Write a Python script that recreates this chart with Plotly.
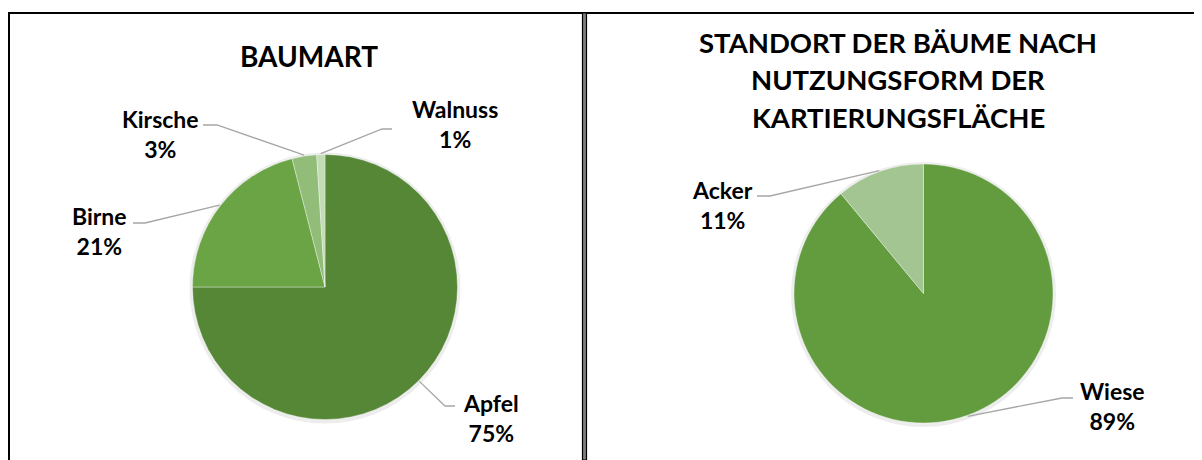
import math
import plotly.graph_objects as go

# page is shown with the browser's default 8px body margin -> figure sits at (8, 8)
OX, OY = 8, 8
W, H = 1202 - OX, 460 - OY

# ---- data ----
tree_labels = ["Apfel", "Birne", "Kirsche", "Walnuss"]
tree_values = [75, 21, 3, 1]
site_labels = ["Wiese", "Acker"]
site_values = [89, 11]

title_left = "BAUMART"
title_right = ["STANDORT DER BÄUME NACH", "NUTZUNGSFORM DER", "KARTIERUNGSFLÄCHE"]

# ---- styles / layout ----
tree_colors = ["#568737", "#6aa444", "#91bd78", "#c2dcb4"]
site_colors = ["#629c3f", "#a3c591"]
FONT = "Lato, 'Open Sans', sans-serif"
LEADER = "#a6a6a6"

# label layout (screen pixels): text centre (x, y), leader start x, elbow x, leader y
label_layout = {
    "Apfel":   (491, 418, 455, 445, 406),
    "Birne":   (99, 231, 133, 145, 223),
    "Kirsche": (160, 134, 203, 217, 125),
    "Walnuss": (455, 124, 392, 382, 129),
    "Wiese":   (1112, 406, 1073, 1062, 398),
    "Acker":   (722, 205, 757, 770, 196),
}

panels = [
    dict(labels=tree_labels, values=tree_values, colors=tree_colors, cx=325, cy=287, r=132.5),
    dict(labels=site_labels, values=site_values, colors=site_colors, cx=923.5, cy=293.5, r=129.5),
]


def px(x):
    return (x - OX) / W


def py(y):
    return 1 - (y - OY) / H


fig = go.Figure()
shapes = []
annotations = []

for p in panels:
    cx, cy, r = p["cx"], p["cy"], p["r"]
    # faint shadow behind the pie
    shapes.append(dict(type="circle", xref="paper", yref="paper", layer="below",
                       x0=px(cx - r - 3), x1=px(cx + r + 3), y0=py(cy + r + 4), y1=py(cy - r - 2),
                       fillcolor="rgba(0,0,0,0.07)", line=dict(width=0)))
    fig.add_trace(go.Pie(
        labels=p["labels"], values=p["values"], sort=False, direction="clockwise", rotation=0,
        marker=dict(colors=p["colors"], line=dict(color="rgba(255,255,255,0.6)", width=0.6)),
        textinfo="none", hoverinfo="label+percent", showlegend=False,
        domain=dict(x=[px(cx - r), px(cx + r)], y=[py(cy + r), py(cy - r)]),
    ))
    total = sum(p["values"])
    cum = 0
    for lab, val in zip(p["labels"], p["values"]):
        mid = (cum + val / 2) / total * 2 * math.pi
        cum += val
        ex = cx + (r + 1) * math.sin(mid)
        ey = cy - (r + 1) * math.cos(mid)
        tx, ty, sx, bx, ly = label_layout[lab]
        shapes.append(dict(type="path", xref="paper", yref="paper",
                           path=f"M {px(sx)},{py(ly)} L {px(bx)},{py(ly)} L {px(ex)},{py(ey)}",
                           line=dict(color=LEADER, width=1.3)))
        pct = f"{round(val / total * 100)}%"
        annotations.append(dict(xref="paper", yref="paper", x=px(tx), y=py(ty),
                                xanchor="center", yanchor="middle", showarrow=False,
                                text=f"<b>{lab}</b><br><b>{pct}</b>",
                                font=dict(family=FONT, size=23, color="#000000")))

# titles
annotations.append(dict(xref="paper", yref="paper", x=px(309), y=py(56), xanchor="center",
                        yanchor="middle", showarrow=False, text=f"<b>{title_left}</b>",
                        font=dict(family=FONT, size=28, color="#000000")))
for i, line in enumerate(title_right):
    annotations.append(dict(xref="paper", yref="paper", x=px(898), y=py(42 + 37.5 * i),
                            xanchor="center", yanchor="middle", showarrow=False,
                            text=f"<b>{line}</b>",
                            font=dict(family=FONT, size=27.5, color="#000000")))

# frame lines
black = dict(color="#000000", width=2)
shapes += [
    dict(type="line", xref="paper", yref="paper", x0=px(7.5), x1=px(1202), y0=py(13), y1=py(13), line=black),
    dict(type="line", xref="paper", yref="paper", x0=px(9), x1=px(9), y0=py(13), y1=py(460), line=black),
    dict(type="rect", xref="paper", yref="paper", x0=px(582.5), x1=px(586.5), y0=py(460), y1=py(13),
         fillcolor="#7f7f7f", line=dict(color="#000000", width=1.2)),
]

fig.update_layout(
    width=W, height=H, margin=dict(l=0, r=0, t=0, b=0),
    paper_bgcolor="#ffffff", plot_bgcolor="#ffffff",
    shapes=shapes, annotations=annotations,
)

fig.write_html("out.html")
